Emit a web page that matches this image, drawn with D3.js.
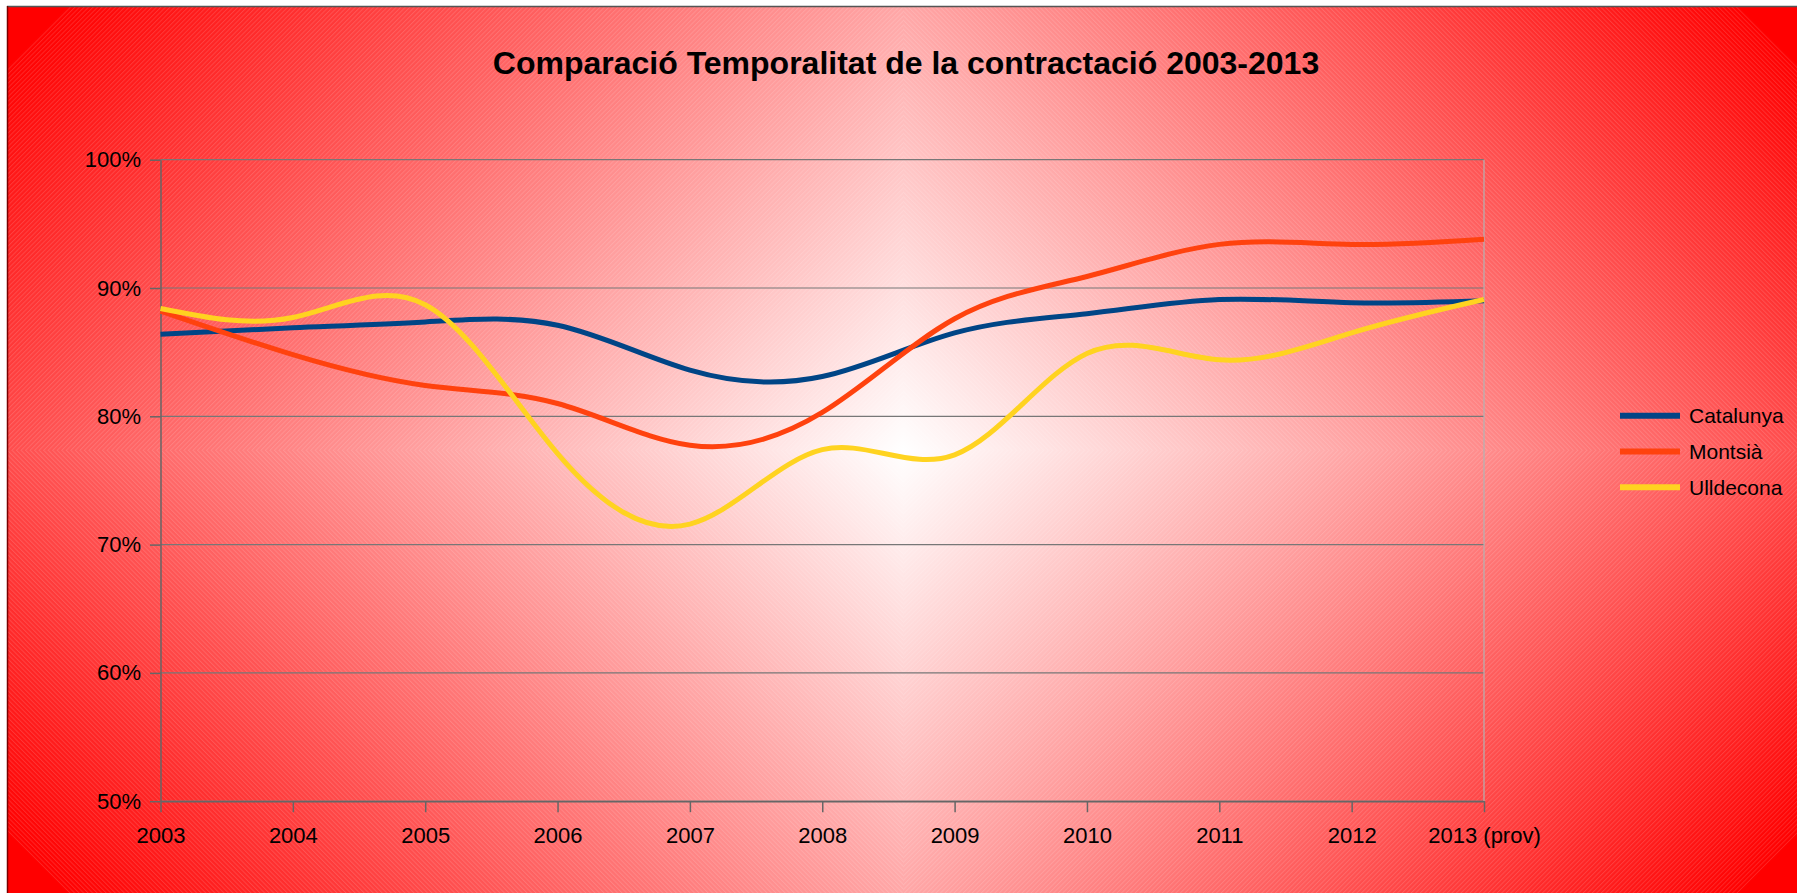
<!DOCTYPE html>
<html>
<head>
<meta charset="utf-8">
<script src="https://cdn.jsdelivr.net/npm/d3@7"></script>
<style>
  html, body { margin: 0; padding: 0; background: #fff; }
  svg { display: block; font-family: "Liberation Sans", Arial, sans-serif; }
</style>
</head>
<body>
<svg id="chart" width="1797" height="893"></svg>
<script>
// Dades
const anys = ['2003', '2004', '2005', '2006', '2007', '2008', '2009', '2010', '2011', '2012', '2013 (prov)']
const catalunya = [86.4, 86.9, 87.35, 87.1, 83.6, 83.1, 86.5, 88.0, 89.1, 88.85, 89.0]
const montsia = [88.2, 84.8, 82.4, 81.0, 77.75, 80.3, 87.6, 90.9, 93.4, 93.4, 93.8]
const ulldecona = [88.4, 87.7, 88.7, 77.1, 71.6, 77.4, 77.0, 84.9, 84.4, 86.5, 89.1]
const series = ['Catalunya', 'Montsià', 'Ulldecona']
const valorsY = [50, 60, 70, 80, 90, 100]

const colors = ['#004586', '#ff420e', '#ffd320']
const W = 1797, H = 893
const svg = d3.select('#chart')
const defs = svg.append('defs')

// Fons: degradat en rombe (vermell -> blanc al centre)
const cx = 903, cy = 450, D = 1278
const bx0 = 7, by0 = 6
defs.append('clipPath').attr('id', 'clipFons')
  .append('rect').attr('x', bx0).attr('y', by0).attr('width', W - bx0).attr('height', H - by0)

const quadrants = [
  { id: 'tl', sx: -1, sy: -1, rot: 45 },
  { id: 'tr', sx: 1, sy: -1, rot: -45 },
  { id: 'bl', sx: -1, sy: 1, rot: -45 },
  { id: 'br', sx: 1, sy: 1, rot: 45 }
]
quadrants.forEach(q => {
  const g = defs.append('linearGradient').attr('id', 'grad-' + q.id)
    .attr('gradientUnits', 'userSpaceOnUse')
    .attr('x1', cx).attr('y1', cy)
    .attr('x2', cx + q.sx * D / 2).attr('y2', cy + q.sy * D / 2)
  g.append('stop').attr('offset', 0).attr('stop-color', '#ffffff')
  g.append('stop').attr('offset', 1).attr('stop-color', '#ff0000')

  const p = defs.append('pattern').attr('id', 'ratlles-' + q.id)
    .attr('patternUnits', 'userSpaceOnUse')
    .attr('width', 3.2).attr('height', 10)
    .attr('patternTransform', `rotate(${q.rot})`)
  p.append('rect').attr('width', 1).attr('height', 10)
    .attr('fill', '#ffffff').attr('opacity', 0.14)
})

const fons = svg.append('g').attr('clip-path', 'url(#clipFons)')
quadrants.forEach(q => {
  const x0 = q.sx < 0 ? 0 : cx
  const y0 = q.sy < 0 ? 0 : cy
  fons.append('rect')
    .attr('x', x0).attr('y', y0)
    .attr('width', q.sx < 0 ? cx : W - cx)
    .attr('height', q.sy < 0 ? cy : H - cy)
    .attr('fill', `url(#grad-${q.id})`)
  fons.append('path')
    .attr('d', `M${cx},${cy}L${cx + q.sx * D},${cy}L${cx},${cy + q.sy * D}Z`)
    .attr('fill', `url(#ratlles-${q.id})`)
})

// vora
svg.append('line').attr('x1', bx0).attr('x2', W).attr('y1', by0 + 0.5).attr('y2', by0 + 0.5)
  .attr('stroke', '#555').attr('stroke-width', 1.5)
svg.append('line').attr('x1', bx0 + 0.5).attr('x2', bx0 + 0.5).attr('y1', by0).attr('y2', H)
  .attr('stroke', '#7a0000').attr('stroke-width', 1.5)

// Escales
const x = d3.scalePoint().domain(anys).range([160.5, 1484])
const y = d3.scaleLinear().domain([50, 100]).range([801.2, 159.7])

// Graella
svg.append('g')
  .selectAll('line')
  .data(valorsY)
  .join('line')
  .attr('x1', 160.5).attr('x2', 1484)
  .attr('y1', d => y(d)).attr('y2', d => y(d))
  .attr('stroke', '#777').attr('stroke-width', 1.2)

svg.append('line')
  .attr('x1', 1484).attr('x2', 1484)
  .attr('y1', y(100)).attr('y2', y(50))
  .attr('stroke', '#b3b3b3').attr('stroke-width', 1.2)

// Eixos
const yAxis = d3.axisLeft(y)
  .tickValues(valorsY)
  .tickFormat(d => d + '%')
  .tickSize(10.5)
  .tickSizeOuter(0)
  .tickPadding(9)

const gy = svg.append('g')
  .attr('transform', 'translate(160.5,0)')
  .call(yAxis)

const xAxis = d3.axisBottom(x)
  .tickSize(11)
  .tickSizeOuter(0)
  .tickPadding(15)

const gx = svg.append('g')
  .attr('transform', `translate(0,${y(50)})`)
  .call(xAxis)

;[gx, gy].forEach(g => {
  g.selectAll('.domain').attr('stroke', '#666').attr('stroke-width', 1.5)
  g.selectAll('.tick line').attr('stroke', '#666').attr('stroke-width', 1.5)
  g.selectAll('.tick text')
    .attr('fill', '#000')
    .attr('font-size', '22px')
    .attr('font-family', '"Liberation Sans", Arial, sans-serif')
})

// Línies
const dades = [catalunya, montsia, ulldecona]
const linia = d3.line()
  .x((d, i) => x(anys[i]))
  .y(d => y(d))
  .curve(d3.curveNatural)

svg.append('g')
  .selectAll('path')
  .data(dades)
  .join('path')
  .attr('d', d => linia(d))
  .attr('fill', 'none')
  .attr('stroke', (d, i) => colors[i])
  .attr('stroke-width', 5)
  .attr('stroke-linejoin', 'round')

// Títol
svg.append('text')
  .text('Comparació Temporalitat de la contractació 2003-2013')
  .attr('x', 906)
  .attr('y', 74)
  .attr('text-anchor', 'middle')
  .attr('font-weight', 'bold')
  .attr('font-size', '32px')
  .attr('fill', '#000')

// Llegenda
const llegenda = svg.append('g')
  .selectAll('g')
  .data(series)
  .join('g')
  .attr('transform', (d, i) => `translate(1620,${415.7 + i * 35.8})`)

llegenda.append('line')
  .attr('x1', 0).attr('x2', 60)
  .attr('stroke', (d, i) => colors[i])
  .attr('stroke-width', 6)

llegenda.append('text')
  .text(d => d)
  .attr('x', 69)
  .attr('dy', '0.35em')
  .attr('font-size', '21px')
  .attr('fill', '#000')
</script>
</body>
</html>
